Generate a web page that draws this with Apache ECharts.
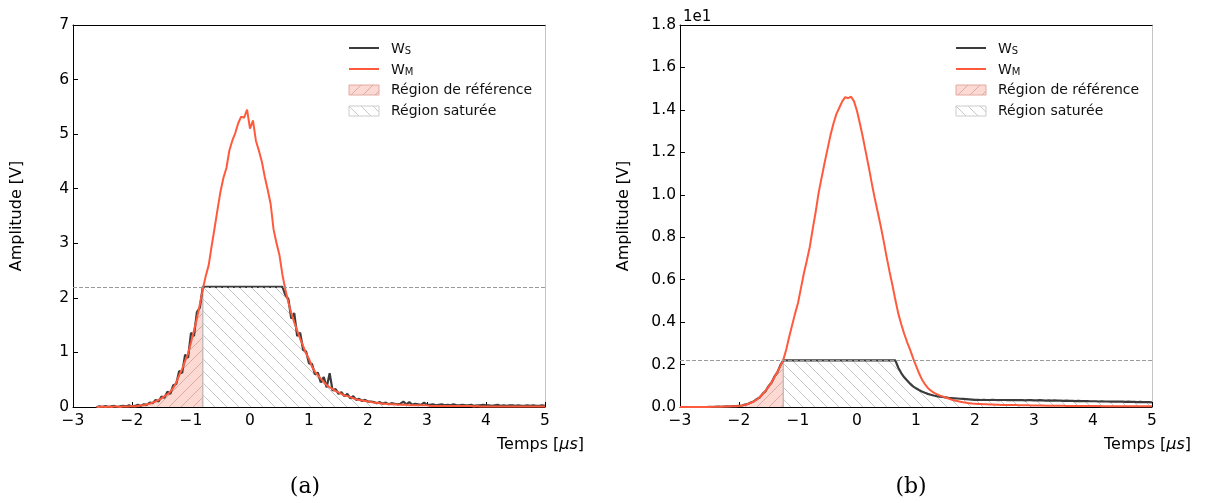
<!DOCTYPE html>
<html><head><meta charset="utf-8">
<script src="https://cdn.jsdelivr.net/npm/echarts@6/dist/echarts.min.js"></script>
<style>html,body{margin:0;padding:0;background:#fff}#c{width:1207px;height:503px}</style>
</head><body><div id="c"></div>
<script>
// ---------- data ----------
const step = 0.05;
const tStartA = -2.6;      // panel (a) first sample, µs
const tStartB = -3.0;      // panel (b) first sample, µs
const satA = 2.2;          // saturation level (a), V
const satB = 0.22;         // saturation level (b), ×10 V
const refEndA = -0.80;     // end of reference region (a)
const refEndB = -1.25;     // end of reference region (b)

const wmA = [
 0.00,0.00,0.01,0.00,0.01,0.00,0.01,0.01,0.00,0.01,
 0.01,0.01,0.02,0.01,0.02,0.03,0.03,0.05,0.06,0.08,
 0.10,0.13,0.16,0.20,0.23,0.28,0.35,0.45,0.58,0.70,
 0.84,0.98,1.18,1.40,1.62,1.88,2.16,2.40,2.60,2.95,
 3.28,3.62,3.95,4.20,4.38,4.70,4.88,5.02,5.20,5.32,
 5.30,5.45,5.10,5.25,4.88,4.70,4.50,4.22,3.98,3.72,
 3.25,3.00,2.78,2.42,2.15,1.92,1.72,1.55,1.40,1.25,
 1.12,0.98,0.88,0.74,0.65,0.58,0.52,0.46,0.40,0.36,
 0.33,0.29,0.27,0.24,0.21,0.20,0.18,0.16,0.14,0.13,
 0.12,0.11,0.10,
 0.09,0.08,0.08,0.07,0.06,0.06,0.05,0.05,0.05,0.04,
 0.04,0.04,0.04,0.03,0.03,0.03,0.03,0.03,0.03,0.03,
 0.02,0.02,0.02,0.02,0.02,0.02,0.02,0.02,0.02,0.02,
 0.02,0.02,0.02,0.02,0.02,0.01,0.02,0.01,0.01,0.01,
 0.01,0.01,0.01,0.01,0.01,0.01,0.01,0.01,0.01,0.01,
 0.01,0.01,0.01,0.01,0.01,0.01,0.01,0.01,0.01,0.01
];
const wsA = [
 0.00,0.01,0.00,0.02,0.00,0.01,0.02,0.00,0.01,0.02,
 0.01,0.03,0.01,0.02,0.04,0.02,0.05,0.04,0.08,0.07,
 0.13,0.10,0.19,0.17,0.28,0.24,0.40,0.42,0.66,0.62,
 0.96,0.90,1.36,1.30,1.74,1.82,2.20,2.20,2.20,2.20,
 2.20,2.20,2.20,2.20,2.20,2.20,2.20,2.20,2.20,2.20,
 2.20,2.20,2.20,2.20,2.20,2.20,2.20,2.20,2.20,2.20,
 2.20,2.20,2.20,2.20,2.05,1.98,1.62,1.72,1.30,1.36,
 1.05,1.02,0.80,0.79,0.60,0.63,0.45,0.55,0.36,0.62,
 0.30,0.33,0.24,0.27,0.20,0.24,0.16,0.20,0.13,0.15,
 0.11,0.13,0.10,
 0.10,0.09,0.07,0.09,0.06,0.08,0.05,0.07,0.06,0.05,
 0.06,0.10,0.05,0.09,0.04,0.06,0.05,0.04,0.08,0.04,
 0.04,0.05,0.03,0.04,0.05,0.03,0.04,0.03,0.05,0.03,
 0.03,0.04,0.03,0.03,0.04,0.02,0.03,0.03,0.04,0.03,
 0.03,0.02,0.03,0.04,0.02,0.03,0.02,0.03,0.03,0.02,
 0.03,0.02,0.02,0.03,0.02,0.03,0.02,0.02,0.03,0.02
];
const wmB = [
 0,0,0,0,0,0,0,0,0,0,
 0.000,0.001,0.001,0.001,0.001,0.002,0.002,0.003,0.003,0.004,
 0.005,0.007,0.010,0.014,0.020,0.027,0.035,0.046,0.060,0.076,
 0.095,0.116,0.140,0.165,0.192,0.222,0.270,0.330,0.385,0.440,
 0.490,0.560,0.630,0.690,0.755,0.840,0.920,1.010,1.080,1.150,
 1.215,1.280,1.335,1.380,1.410,1.440,1.460,1.455,1.462,1.440,
 1.395,1.335,1.270,1.200,1.130,1.055,0.985,0.920,0.855,0.785,
 0.710,0.640,0.575,0.505,0.440,0.390,0.345,0.305,0.270,0.230,
 0.195,0.160,0.130,0.108,0.090,0.078,0.068,0.061,0.055,0.050,
 0.045,0.040,0.035,0.031,0.028,0.025,0.022,0.020,0.018,0.016,
 0.015,
 0.014,0.014,0.013,0.013,0.012,0.012,0.011,0.011,0.010,0.010,
 0.010,0.009,0.009,0.009,0.008,0.008,0.008,0.008,0.007,0.007,
 0.007,0.007,0.007,0.006,0.006,0.006,0.006,0.006,0.006,0.006,
 0.005,0.005,0.005,0.005,0.005,0.005,0.005,0.005,0.005,0.005,
 0.005,0.005,0.004,0.004,0.004,0.004,0.004,0.004,0.004,0.004,
 0.004,0.004,0.004,0.004,0.004,0.004,0.004,0.004,0.004,0.004
];
const wsB = [
 0,0,0,0,0,0,0,0,0,0,
 0.001,0.000,0.001,0.002,0.001,0.002,0.003,0.002,0.004,0.004,
 0.006,0.007,0.011,0.014,0.021,0.026,0.037,0.045,0.062,0.075,
 0.098,0.114,0.143,0.163,0.196,0.220,0.220,0.220,0.220,0.220,
 0.220,0.220,0.220,0.220,0.220,0.220,0.220,0.220,0.220,0.220,
 0.220,0.220,0.220,0.220,0.220,0.220,0.220,0.220,0.220,0.220,
 0.220,0.220,0.220,0.220,0.220,0.220,0.220,0.220,0.220,0.220,
 0.220,0.220,0.220,0.220,0.185,0.160,0.140,0.125,0.110,0.097,
 0.088,0.080,0.073,0.067,0.062,0.058,0.054,0.051,0.049,0.047,
 0.045,0.043,0.042,0.041,0.040,0.039,0.038,0.037,0.036,0.035,
 0.034,
 0.034,0.033,0.034,0.033,0.033,0.034,0.033,0.032,0.033,0.033,
 0.032,0.033,0.032,0.032,0.033,0.032,0.031,0.032,0.032,0.031,
 0.031,0.032,0.031,0.030,0.031,0.030,0.031,0.030,0.030,0.029,
 0.030,0.029,0.029,0.028,0.029,0.028,0.028,0.028,0.027,0.027,
 0.027,0.026,0.027,0.026,0.026,0.025,0.026,0.025,0.025,0.025,
 0.024,0.025,0.024,0.024,0.023,0.024,0.023,0.023,0.023,0.022
];
const legendNames = ['W_S','W_M','Région de référence','Région saturée'];

// ---------- helpers ----------
const FONT = 'DejaVu Sans';
const C_S = '#3c3c3c', C_M = '#ff5a3c';
function pairs(t0, vals){ return vals.map((v,i)=>[+(t0+i*step).toFixed(3), v]); }
function hatch(bg, line, dir, size){
  const c=document.createElement('canvas'); c.width=c.height=size;
  const g=c.getContext('2d'); g.fillStyle=bg; g.fillRect(0,0,size,size);
  g.strokeStyle=line; g.lineWidth=1; g.beginPath();
  for(const o of [-size,0,size]){
    if(dir==='/'){ g.moveTo(o,size); g.lineTo(o+size,0); }
    else { g.moveTo(o,0); g.lineTo(o+size,size); }
  }
  g.stroke(); return c;
}
const pinkPat = {image: hatch('#fdd9d3','#d8aba4','/',12), repeat:'repeat'};
const grayPat = {image: hatch('#ffffff','#c8c8c8','\\',12), repeat:'repeat'};
const minus = v => (v<0? '\u2212'+Math.abs(v) : String(v));

function panelSeries(xi, t0, wm, ws, refEnd, sat){
  const wsP = pairs(t0, ws), wmP = pairs(t0, wm);
  const iRef = Math.round((refEnd - t0)/step);
  const common = {type:'line', xAxisIndex:xi, yAxisIndex:xi, symbol:'none', showSymbol:false, silent:true, animation:false};
  return [
    Object.assign({}, common, {name:'Région saturée', data: wsP.slice(iRef),
      lineStyle:{width:0, opacity:0}, itemStyle:{color:'#cccccc'}, areaStyle:{color:grayPat, opacity:1}}),
    Object.assign({}, common, {name:'Région de référence', data: wsP.slice(0, iRef+1),
      lineStyle:{width:0, opacity:0}, itemStyle:{color:'#fdd9d3'}, areaStyle:{color:pinkPat, opacity:1}}),
    Object.assign({}, common, {name:'edge', data:[[refEnd,0],[refEnd,sat]],
      lineStyle:{width:1.2, color:'#b4b4b4'}}),
    Object.assign({}, common, {name:'W_S', data: wsP, itemStyle:{color:C_S},
      lineStyle:{width:2.2, color:C_S},
      markLine:{silent:true, symbol:'none', label:{show:false},
        lineStyle:{type:[4,2], color:'#9a9a9a', width:1}, data:[{yAxis:sat}]}}),
    Object.assign({}, common, {name:'W_M', data: wmP, itemStyle:{color:C_M},
      lineStyle:{width:2, color:C_M}})
  ];
}

function xAxes(gi){
  return [
    {gridIndex:gi, type:'value', min:-3, max:5, interval:1, position:'bottom',
     axisLine:{onZero:false, lineStyle:{color:'#000', width:1}}, splitLine:{show:false},
     axisTick:{inside:true, length:5, lineStyle:{color:'#000'}},
     axisLabel:{formatter:minus, color:'#000', fontFamily:FONT, fontSize:15.5, margin:6}},
    {gridIndex:gi, type:'value', min:-3, max:5, position:'top',
     axisLine:{onZero:false, lineStyle:{color:'#000', width:1}}, splitLine:{show:false},
     axisTick:{show:false}, axisLabel:{show:false}}
  ];
}
function yAxes(gi, max, interval, fmt){
  return [
    {gridIndex:gi, type:'value', min:0, max:max, interval:interval, position:'left',
     name:'Amplitude [V]', nameLocation:'middle', nameGap:48,
     nameTextStyle:{fontFamily:FONT, fontSize:16, color:'#000'},
     axisLine:{show:true, onZero:false, lineStyle:{color:'#000', width:1}}, splitLine:{show:false},
     axisTick:{show:true, inside:true, length:5, lineStyle:{color:'#000'}},
     axisLabel:{formatter:fmt, color:'#000', fontFamily:FONT, fontSize:15.5, margin:4}},
    {gridIndex:gi, type:'value', min:0, max:max, position:'right',
     axisLine:{show:true, onZero:false, lineStyle:{color:'#c4c4c4', width:1}}, splitLine:{show:false},
     axisTick:{show:false}, axisLabel:{show:false}}
  ];
}
function legend(left){
  return {
    left:left, top:40, orient:'vertical', padding:0, itemGap:5,
    itemWidth:30, itemHeight:10, selectedMode:false,
    data:[
      {name:legendNames[0], itemStyle:{opacity:0}}, {name:legendNames[1], itemStyle:{opacity:0}},
      {name:legendNames[2], icon:'rect', itemStyle:{color:pinkPat, borderColor:'#e0aaa2', borderWidth:1}},
      {name:legendNames[3], icon:'rect', itemStyle:{color:grayPat, borderColor:'#cccccc', borderWidth:1}}
    ],
    formatter: n => n==='W_S' ? '{w|W}{s|S}' : (n==='W_M' ? '{w|W}{s|M}' : n),
    textStyle:{fontFamily:FONT, fontSize:14, color:'#111', lineHeight:16, padding:[0,0,0,7],
      rich:{w:{fontFamily:FONT, fontSize:14, color:'#111', lineHeight:16, verticalAlign:'bottom'},
            s:{fontFamily:FONT, fontSize:10, color:'#111', lineHeight:8, verticalAlign:'bottom'}}}
  };
}
function tempsLabel(x){
  return {type:'text', x:x, y:445, style:{
    text:'{n|Temps [}{i|\u03bcs}{n|]}', verticalAlign:'middle',
    rich:{n:{fontFamily:FONT, fontSize:16, fill:'#000'}, i:{fontFamily:FONT, fontSize:16, fontStyle:'italic', fill:'#000'}}}};
}

const chart = echarts.init(document.getElementById('c'), null, {renderer:'canvas'});
chart.setOption({
  animation:false,
  backgroundColor:'#ffffff',
  grid:[{left:73, top:25, width:472, height:382}, {left:680, top:25, width:472, height:382}],
  xAxis:[...xAxes(0), ...xAxes(1)],
  yAxis:[...yAxes(0, 7, 1, v=>String(v)), ...yAxes(1, 1.8, 0.2, v=>v.toFixed(1))],
  legend:[legend(348), legend(955)],
  series:[...panelSeries(0, tStartA, wmA, wsA, refEndA, satA), ...panelSeries(2, tStartB, wmB, wsB, refEndB, satB)],
  graphic:[
    tempsLabel(497), tempsLabel(1104),
    {type:'text', x:683, y:17, style:{text:'1e1', fontFamily:FONT, fontSize:15, fill:'#000', verticalAlign:'middle'}},
    {type:'text', x:305, y:487, style:{text:'(a)', fontFamily:'DejaVu Serif', fontSize:22, fill:'#000', align:'center', verticalAlign:'middle'}},
    {type:'text', x:911, y:487, style:{text:'(b)', fontFamily:'DejaVu Serif', fontSize:22, fill:'#000', align:'center', verticalAlign:'middle'}}
  ]
});
</script></body></html>
